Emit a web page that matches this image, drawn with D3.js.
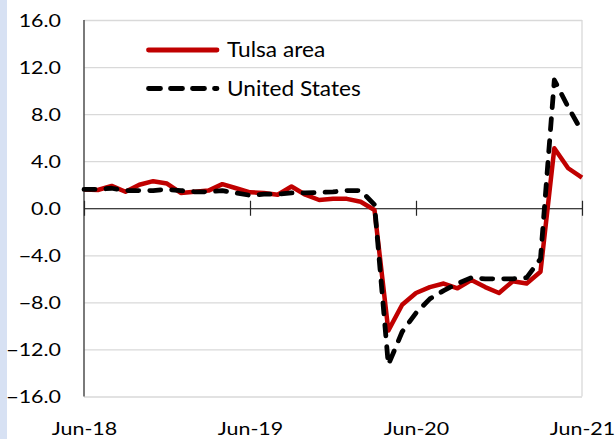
<!DOCTYPE html>
<html>
<head>
<meta charset="utf-8">
<script src="https://cdn.jsdelivr.net/npm/d3@7"></script>
<style>
  html, body { margin: 0; padding: 0; background: #fff; }
  svg { display: block; font-family: Lato, "Open Sans", sans-serif; }
</style>
</head>
<body>
<div id="chart"></div>
<script>
// monthly, Jun-18 .. Jun-21
var months = [
  "Jun-18", "Jul-18", "Aug-18", "Sep-18", "Oct-18", "Nov-18", "Dec-18",
  "Jan-19", "Feb-19", "Mar-19", "Apr-19", "May-19", "Jun-19", "Jul-19",
  "Aug-19", "Sep-19", "Oct-19", "Nov-19", "Dec-19", "Jan-20", "Feb-20",
  "Mar-20", "Apr-20", "May-20", "Jun-20", "Jul-20", "Aug-20", "Sep-20",
  "Oct-20", "Nov-20", "Dec-20", "Jan-21", "Feb-21", "Mar-21", "Apr-21",
  "May-21", "Jun-21"
];
var tulsa = [
  1.6, 1.55, 1.9, 1.4, 2.0, 2.3, 2.1, 1.3, 1.4, 1.5, 2.05, 1.7, 1.35,
  1.3, 1.15, 1.85, 1.15, 0.7, 0.8, 0.8, 0.55, -0.15, -10.4, -8.2, -7.2,
  -6.7, -6.4, -6.8, -6.1, -6.7, -7.2, -6.2, -6.4, -5.4, 5.1, 3.4, 2.6
];
var unitedStates = [
  1.6, 1.6, 1.7, 1.5, 1.5, 1.5, 1.6, 1.5, 1.4, 1.4, 1.5, 1.3, 1.1,
  1.2, 1.2, 1.3, 1.3, 1.35, 1.4, 1.5, 1.5, 0.3, -13.3, -10.5, -8.9,
  -7.7, -7.0, -6.4, -5.9, -6.0, -6.0, -6.0, -5.9, -4.3, 10.9, 8.6, 6.5
];
var xTickLabels = ["Jun-18", "Jun-19", "Jun-20", "Jun-21"];
var yTicks = [-16, -12, -8, -4, 0, 4, 8, 12, 16];
var seriesNames = ["Tulsa area", "United States"];

var WIDTH = 616;
var HEIGHT = 439;
var PLOT = { left: 84, right: 582, top: 20, bottom: 396.5 };
var TEXT_STRETCH = 1.19;

var svg = d3.select("#chart").append("svg")
    .attr("width", WIDTH)
    .attr("height", HEIGHT);

// light blue strip at the left edge
svg.append("rect")
    .attr("x", 0).attr("y", 0)
    .attr("width", 7).attr("height", HEIGHT)
    .attr("fill", "#d7e1f3");

var x = d3.scalePoint().domain(months).range([PLOT.left, PLOT.right]);
var y = d3.scaleLinear().domain([-16, 16]).range([PLOT.bottom, PLOT.top]);

/** gridlines */
svg.append("g")
    .attr("transform", "translate(" + PLOT.left + ",0)")
    .call(d3.axisLeft(y).tickValues(yTicks.filter(function (d) { return d !== 0; }))
        .tickSize(-(PLOT.right - PLOT.left)).tickFormat(""))
    .call(function (g) { g.select(".domain").remove(); })
    .selectAll("line")
    .attr("stroke", "#d9d9d9")
    .attr("stroke-width", 1.3);

// right border
svg.append("line")
    .attr("x1", PLOT.right).attr("x2", PLOT.right)
    .attr("y1", PLOT.top).attr("y2", PLOT.bottom)
    .attr("stroke", "#d9d9d9").attr("stroke-width", 1.3);

/** y axis labels */
var yLabels = svg.append("g")
    .attr("transform", "translate(61,0)")
    .call(d3.axisLeft(y).tickValues(yTicks).tickSize(0).tickPadding(0)
        .tickFormat(d3.format(".1f")));
yLabels.select(".domain").remove();
yLabels.selectAll("text")
    .attr("x", 0)
    .attr("dy", "0.36em")
    .attr("transform", "scale(" + TEXT_STRETCH + ",1)")
    .attr("font-size", 18)
    .attr("font-family", "Lato, sans-serif")
    .attr("fill", "#000");

// left axis line
svg.append("line")
    .attr("x1", PLOT.left).attr("x2", PLOT.left)
    .attr("y1", PLOT.top).attr("y2", PLOT.bottom)
    .attr("stroke", "#595959").attr("stroke-width", 1.6);

/** zero line with crossing ticks */
var zeroAxis = svg.append("g")
    .attr("transform", "translate(0," + y(0) + ")")
    .call(d3.axisBottom(x).tickValues(xTickLabels).tickSizeInner(7.5)
        .tickSizeOuter(0).tickFormat(""));
zeroAxis.select(".domain").attr("stroke", "#000").attr("stroke-width", 1.2);
zeroAxis.selectAll(".tick line")
    .attr("y1", -7.5)
    .attr("stroke", "#262626")
    .attr("stroke-width", 1.2);

/** x axis labels */
var xLabels = svg.append("g")
    .attr("transform", "translate(0,435)")
    .call(d3.axisBottom(x).tickValues(xTickLabels).tickSize(0).tickPadding(0));
xLabels.select(".domain").remove();
xLabels.selectAll("text")
    .attr("y", 0)
    .attr("dy", 0)
    .attr("transform", "scale(" + TEXT_STRETCH + ",1)")
    .attr("font-size", 18)
    .attr("font-family", "Lato, sans-serif")
    .attr("fill", "#000");

/** series */
var line = d3.line()
    .x(function (d, i) { return x(months[i]); })
    .y(function (d) { return y(d); });

svg.append("path")
    .datum(tulsa)
    .attr("fill", "none")
    .attr("stroke", "#c00000")
    .attr("stroke-width", 4.5)
    .attr("stroke-linejoin", "round")
    .attr("d", line);

svg.append("path")
    .datum(unitedStates)
    .attr("fill", "none")
    .attr("stroke", "#000")
    .attr("stroke-width", 4.8)
    .attr("stroke-dasharray", "11 11")
    .attr("stroke-linecap", "round")
    .attr("stroke-linejoin", "round")
    .attr("d", line);

/** legend */
var legendStyles = [
  { stroke: "#c00000", dash: null, cap: "round" },
  { stroke: "#000", dash: "12 10", cap: "round" }
];
var legend = svg.append("g")
    .selectAll("g")
    .data(seriesNames)
    .enter().append("g")
    .attr("transform", function (d, i) { return "translate(0," + (50 + i * 38.5) + ")"; });
legend.append("line")
    .attr("x1", 148.5).attr("x2", 217)
    .attr("stroke", function (d, i) { return legendStyles[i].stroke; })
    .attr("stroke-width", 4.8)
    .attr("stroke-dasharray", function (d, i) { return legendStyles[i].dash; })
    .attr("stroke-linecap", function (d, i) { return legendStyles[i].cap; });
legend.append("text")
    .attr("x", 0)
    .attr("y", 7)
    .attr("transform", "translate(227,0) scale(1.08,1)")
    .attr("font-size", 21)
    .attr("fill", "#000")
    .text(function (d) { return d; });
</script>
</body>
</html>
